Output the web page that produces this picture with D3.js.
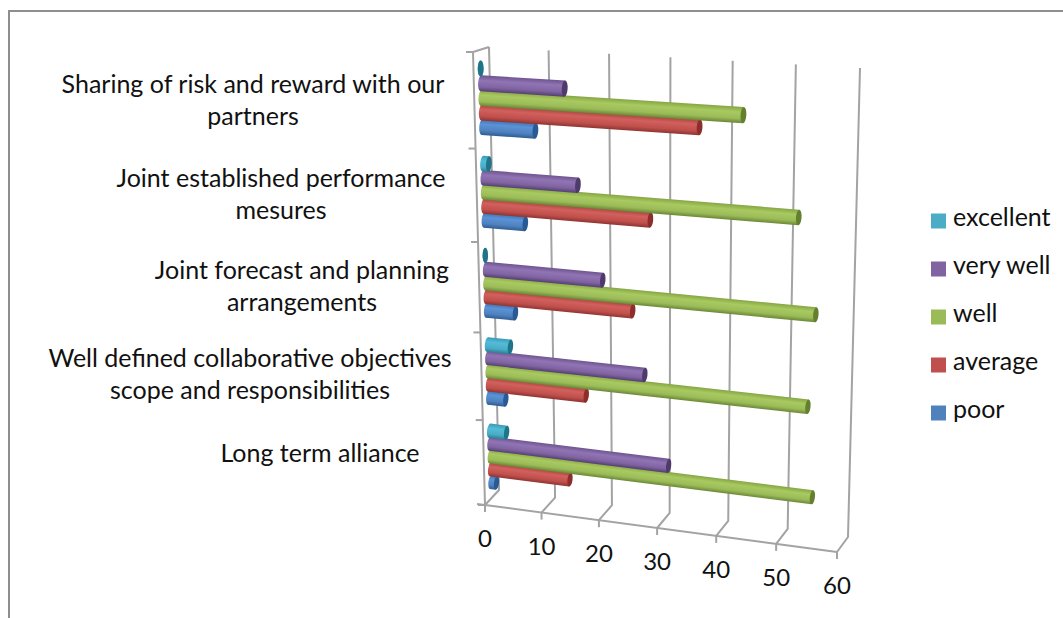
<!DOCTYPE html>
<html>
<head>
<meta charset="utf-8">
<script src="https://cdn.jsdelivr.net/npm/d3@7"></script>
<style>
  html, body { margin: 0; padding: 0; background: #fff; overflow: hidden; }
  svg { display: block; }
  text { font-family: Lato, "Open Sans", sans-serif; fill: #111; }
</style>
</head>
<body>
<div id="chart"></div>
<script>
// categories run bottom to top, the way the value axis wall is read
const categories = [
  'Long term alliance',
  'Well defined collaborative objectives scope and responsibilities',
  'Joint forecast and planning arrangements',
  'Joint established performance mesures',
  'Sharing of risk and reward with our partners'
];
const categoryLines = [
  ['Long term alliance'],
  ['Well defined collaborative objectives', 'scope and responsibilities'],
  ['Joint forecast and planning', 'arrangements'],
  ['Joint established performance', 'mesures'],
  ['Sharing of risk and reward with our', 'partners']
];
const seriesNames = ['poor', 'average', 'well', 'very well', 'excellent'];
const poor = [1, 3, 5, 7, 9];
const average = [14, 17, 25, 28, 36];
const well = [55, 54, 55, 52, 43];
const veryWell = [31, 27, 20, 16, 14];
const excellent = [3, 4, 0, 1, 0];
const seriesValues = [poor, average, well, veryWell, excellent];
const valueTicks = [0, 10, 20, 30, 40, 50, 60];

const width = 1063;
const height = 618;

// base, top shade, highlight, lower shade, end cap
const palette = {
  'poor': ['#4f81bd', '#3f6ea8', '#5a93d8', '#2f5d94', '#2a5a96'],
  'average': ['#c0504d', '#a84340', '#d2605c', '#8f3431', '#8c2f2c'],
  'well': ['#9bbb59', '#86a544', '#a8ca60', '#6b8735', '#64802e'],
  'very well': ['#8064a2', '#6e548f', '#9074b4', '#553f73', '#4f3a6c'],
  'excellent': ['#4bacc6', '#3a9ab4', '#52bcd8', '#2b8096', '#1f7488']
};

const svg = d3.select('#chart').append('svg')
  .attr('width', width)
  .attr('height', height);

// outer frame, only top and left edges are visible
svg.append('path')
  .attr('d', `M9,${height}V11H${width}`)
  .attr('fill', 'none')
  .attr('stroke', '#8e8e8e')
  .attr('stroke-width', 2);

// box corners of the 3d plot: front/back, bottom/top, at value 0 and at value 60
const corners = {
  frontBottom: [[485, 505], [837, 552]],
  backBottom: [[499, 490], [848, 537]],
  frontTop: [[473, 52], [847, 74]],
  backTop: [[489, 47], [860, 68]]
};

const xScale = d3.scaleLinear().domain([0, 60]).range([0, 1]);
const rowScale = d3.scaleBand().domain(categories).range([0, 1]);
const barScale = d3.scaleBand()
  .domain(seriesNames)
  .range([0, rowScale.bandwidth()])
  .paddingInner(0)
  .paddingOuter(0.77);

// foreshortening along one box edge
const warp = (t, b) => t * (1 - b) / (1 - b * t);
const mix = (a, b, t) => [a[0] + (b[0] - a[0]) * t, a[1] + (b[1] - a[1]) * t];

// value, height (0..1), depth (0 front, 1 back) -> screen point
function project(value, h, depth) {
  const u = warp(xScale(value), 0.043);
  const v = warp(h, 0.077);
  const bottomF = mix(corners.frontBottom[0], corners.frontBottom[1], u);
  const bottomB = mix(corners.backBottom[0], corners.backBottom[1], u);
  const topF = mix(corners.frontTop[0], corners.frontTop[1], u);
  const topB = mix(corners.backTop[0], corners.backTop[1], u);
  return mix(mix(bottomF, bottomB, depth), mix(topF, topB, depth), v);
}

const line = d3.line();
const gridColor = '#a3a3a3';
const grid = svg.append('g')
  .attr('fill', 'none')
  .attr('stroke', gridColor)
  .attr('stroke-width', 2);

// back wall and floor lines for each tick
valueTicks.forEach(t => {
  grid.append('path').attr('d', line([
    project(t, 1, 1), project(t, 0, 1), project(t, 0, 0)
  ]));
  const p = project(t, 0, 0);
  grid.append('path').attr('d', line([p, [p[0], p[1] + 7]]));
});

// front floor edge, left edge and the top of the left wall
grid.append('path').attr('d', line([
  [project(0, 0, 0)[0] - 8, project(0, 0, 0)[1] - 1],
  project(0, 0, 0),
  project(60, 0, 0)
]));
grid.append('path').attr('d', line([project(0, 1, 1), project(0, 1, 0), project(0, 0, 0)]));

// category ticks on the left edge
const rowEdges = categories.map(c => rowScale(c)).concat([1]);
rowEdges.forEach(e => {
  const p = project(0, e, 0);
  grid.append('path').attr('d', line([[p[0] - 7, p[1]], p]));
});

// vertical shading shared by the cylinders of a series
const defs = svg.append('defs');
seriesNames.forEach((name, i) => {
  const c = palette[name];
  const grad = defs.append('linearGradient')
    .attr('id', `cyl-${i}`)
    .attr('x1', 0).attr('y1', 0).attr('x2', 0).attr('y2', 1);
  [[0, c[1]], [0.32, c[2]], [0.72, c[0]], [1, c[3]]].forEach(([o, col]) => {
    grad.append('stop').attr('offset', o).attr('stop-color', col);
  });
});

const depthOfBars = 0.45;
const bars = svg.append('g').attr('class', 'bars');

seriesNames.forEach((name, i) => {
  categories.forEach((cat, j) => {
    const value = seriesValues[i][j];
    const h = rowScale(cat) + barScale(name) + barScale.bandwidth() / 2;
    const start = project(0, h, depthOfBars);
    const end = project(value, h, depthOfBars);
    // cylinders slightly wider than their slot so neighbours touch
    const r = 1.1 * Math.abs(project(0, h + barScale.bandwidth() / 2, depthOfBars)[1]
      - project(0, h - barScale.bandwidth() / 2, depthOfBars)[1]) / 2;
    const len = Math.hypot(end[0] - start[0], end[1] - start[1]);
    const angle = Math.atan2(end[1] - start[1], end[0] - start[0]) * 180 / Math.PI;
    const g = bars.append('g')
      .attr('transform', `translate(${start[0]},${start[1]}) rotate(${value ? angle : 0})`);
    const capR = r * 0.36;
    g.append('ellipse')
      .attr('rx', capR).attr('ry', r)
      .attr('fill', `url(#cyl-${i})`);
    g.append('rect')
      .attr('y', -r).attr('width', len).attr('height', 2 * r)
      .attr('fill', `url(#cyl-${i})`);
    g.append('ellipse')
      .attr('cx', len).attr('rx', capR).attr('ry', r)
      .attr('fill', palette[name][4]);
  });
});

// value axis labels hang under the front floor edge
svg.append('g').selectAll('text')
  .data(valueTicks)
  .join('text')
  .attr('x', d => project(d, 0, 0)[0])
  .attr('y', d => project(d, 0, 0)[1] + 36)
  .attr('text-anchor', 'middle')
  .attr('dominant-baseline', 'middle')
  .attr('font-size', 24)
  .text(d => d);

// category labels, centred on their own blocks
const labelAnchors = [[320, 456], [250, 377], [302, 289], [281, 197], [253, 103]];
categoryLines.forEach((lines, j) => {
  lines.forEach((txt, k) => {
    svg.append('text')
      .attr('x', labelAnchors[j][0])
      .attr('y', labelAnchors[j][1] + (k - (lines.length - 1) / 2) * 32)
      .attr('text-anchor', 'middle')
      .attr('dominant-baseline', 'middle')
      .attr('font-size', 25)
      .text(txt);
  });
});

// legend, reversed so excellent sits on top
const legendY = d3.scalePoint()
  .domain(seriesNames.slice().reverse())
  .range([221, 413]);
const legend = svg.append('g').selectAll('g')
  .data(legendY.domain())
  .join('g')
  .attr('transform', d => `translate(931,${legendY(d)})`);
legend.append('rect')
  .attr('y', -7.5).attr('width', 15).attr('height', 15)
  .attr('fill', d => palette[d][0]);
legend.append('text')
  .attr('x', 22)
  .attr('y', -1)
  .attr('dominant-baseline', 'middle')
  .attr('font-size', 25)
  .text(d => d);
</script>
</body>
</html>
